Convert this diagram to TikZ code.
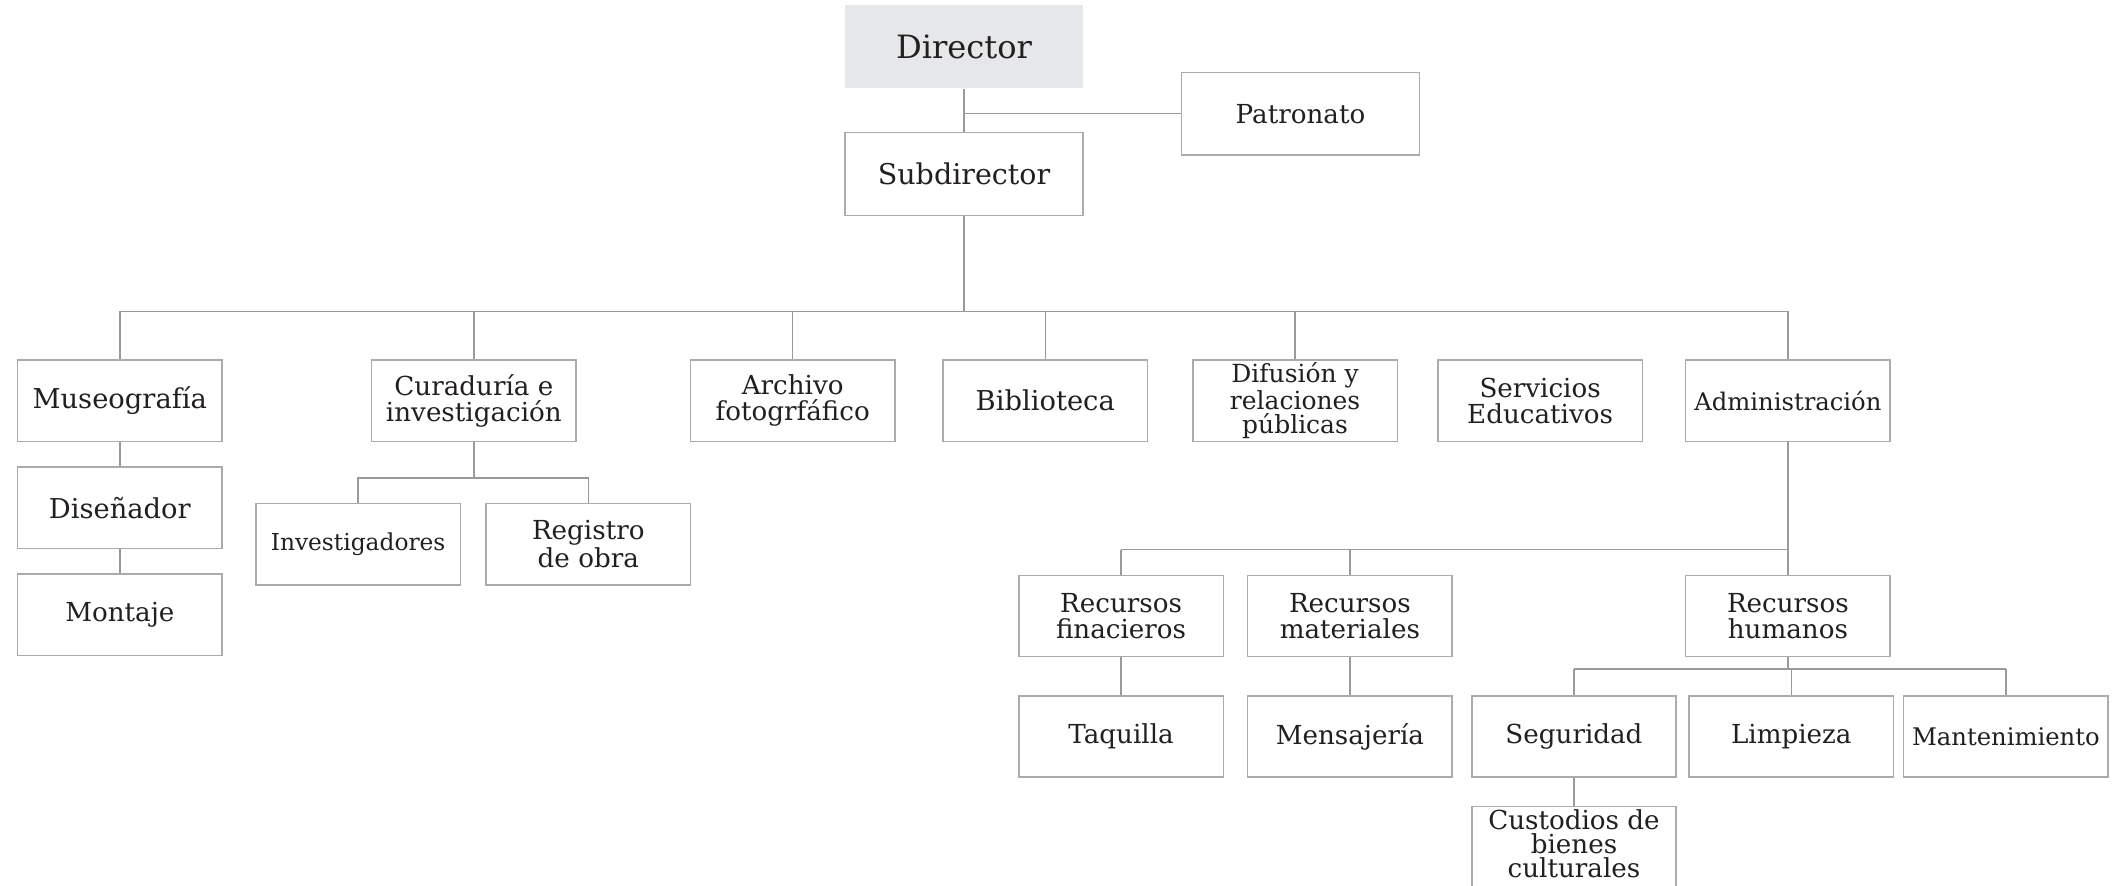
\documentclass[tikz,border=0pt]{standalone}
\usepackage{fontspec}
\setmainfont{DejaVu Serif}
\definecolor{boxgray}{HTML}{ABABAB}
\definecolor{linegray}{HTML}{9A9A9A}
\definecolor{dirfill}{HTML}{E6E7E8}
\definecolor{txt}{HTML}{231F20}
\begin{document}
\begin{tikzpicture}[x=0.02cm,y=-0.02cm,
  box/.style={draw=boxgray, line width=0.6pt, minimum width=3.02cm, minimum height=1.2cm,
    inner sep=1pt, align=center, text=txt, font=\fontsize{11}{10.8}\selectfont},
  wbox/.style={box, minimum width=3.52cm, minimum height=1.22cm},
  conn/.style={draw=linegray, line width=0.6pt}]
\useasboundingbox (0,0) rectangle (1568,654);
\clip (0,0) rectangle (1568,654);
% top
\node[wbox, draw=none, fill=dirfill, font=\fontsize{13.5}{13}\selectfont] (dir) at (712,34.5) {Director};
\node[wbox] (pat) at (960.5,84) {Patronato};
\node[wbox, font=\fontsize{12}{12}\selectfont] (sub) at (712,128.5) {Subdirector};
% level 2
\node[box, font=\fontsize{11.5}{11}\selectfont] (mus) at (88.5,296) {Museografía};
\node[box] (cur) at (350,296) {Curaduría e\\investigación};
\node[box] (arc) at (585.5,296) {Archivo\\fotogrfáfico};
\node[box, font=\fontsize{11.5}{11}\selectfont] (bib) at (772,296) {Biblioteca};
\node[box, font=\fontsize{10.5}{9.9}\selectfont] (dif) at (956.5,296) {Difusión y\\relaciones\\públicas};
\node[box] (ser) at (1137.5,296) {Servicios\\Educativos};
\node[box, font=\fontsize{10.2}{10}\selectfont] (adm) at (1320.5,296) {Administración};
% under Museografia
\node[box, font=\fontsize{11.5}{11}\selectfont] (dis) at (88.5,375) {Diseñador};
\node[box] (mon) at (88.5,454) {Montaje};
% under Curaduria
\node[box, font=\fontsize{9.8}{9.8}\selectfont] (inv) at (264.5,402) {Investigadores};
\node[box] (reg) at (434.5,402) {Registro\\de obra};
% under Administracion
\node[box] (rfi) at (828,455) {Recursos\\finacieros};
\node[box] (rma) at (997,455) {Recursos\\materiales};
\node[box] (rhu) at (1320.5,455) {Recursos\\humanos};
\node[box] (taq) at (828,544) {Taquilla};
\node[box] (men) at (997,544) {Mensajería};
\node[box] (seg) at (1162.5,544) {Seguridad};
\node[box] (lim) at (1323,544) {Limpieza};
\node[box, font=\fontsize{10.2}{10}\selectfont] (man) at (1481.5,544) {Mantenimiento};
\node[box, anchor=north, minimum height=1.6cm] (cus) at (1162.5,595) {};
\node[align=center, inner sep=0pt, text=txt, font=\fontsize{11}{10.2}\selectfont] (cust) at (1162.5,623) {Custodios de\\bienes\\culturales};
% connectors
\coordinate (b1) at (711,230);
\coordinate (b2) at (350,353);
\coordinate (b3) at (1320.5,406);
\coordinate (b4) at (1320.5,494);
\draw[conn] (dir.south) -- (sub.north);
\draw[conn] (pat.west) -- (dir.south |- pat.west);
\draw[conn] (sub.south) -- (sub.south |- b1);
\draw[conn] (mus.north |- b1) -- (adm.north |- b1);
\foreach \n in {mus,cur,arc,bib,dif,adm} \draw[conn] (\n.north) -- (\n.north |- b1);
\draw[conn] (mus.south) -- (dis.north);
\draw[conn] (dis.south) -- (mon.north);
\draw[conn] (cur.south) -- (b2);
\draw[conn] (inv.north) -- (inv.north |- b2) -- (reg.north |- b2) -- (reg.north);
\draw[conn] (adm.south) -- (b3);
\draw[conn] (rfi.north |- b3) -- (b3);
\foreach \n in {rfi,rma,rhu} \draw[conn] (\n.north) -- (\n.north |- b3);
\draw[conn] (rfi.south) -- (taq.north);
\draw[conn] (rma.south) -- (men.north);
\draw[conn] (rhu.south) -- (b4);
\draw[conn] (seg.north |- b4) -- (man.north |- b4);
\foreach \n in {seg,lim,man} \draw[conn] (\n.north) -- (\n.north |- b4);
\draw[conn] (seg.south) -- (cus.north);
\end{tikzpicture}
\end{document}
